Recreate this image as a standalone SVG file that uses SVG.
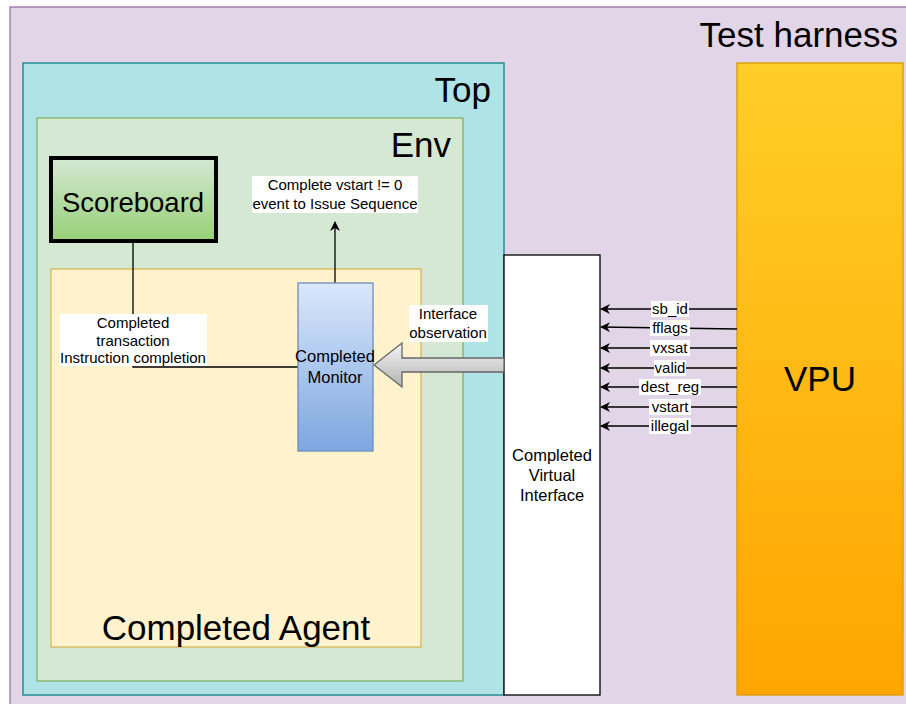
<svg xmlns="http://www.w3.org/2000/svg" width="906" height="704" viewBox="0 0 906 704">
<defs>
<linearGradient id="gSb" x1="0" y1="0" x2="0" y2="1"><stop offset="0" stop-color="#d5e8d4"/><stop offset="1" stop-color="#97d077"/></linearGradient>
<linearGradient id="gMon" x1="0" y1="0" x2="0" y2="1"><stop offset="0" stop-color="#dae8fc"/><stop offset="1" stop-color="#7ea6e0"/></linearGradient>
<linearGradient id="gVpu" x1="0" y1="0" x2="0" y2="1"><stop offset="0" stop-color="#ffcd28"/><stop offset="1" stop-color="#ffa500"/></linearGradient>
<linearGradient id="gArr" x1="0" y1="0" x2="0" y2="1"><stop offset="0" stop-color="#f5f5f5"/><stop offset="1" stop-color="#b3b3b3"/></linearGradient>
<marker id="ah" markerWidth="10" markerHeight="10" refX="9" refY="5" orient="auto" markerUnits="userSpaceOnUse"><path d="M0,0 L10,5 L0,10 L3,5 Z" fill="#000"/></marker>
</defs>
<style>
text{font-family:"Liberation Sans",Arial,sans-serif;fill:#000}
.big{font-size:35px}
.mid{font-size:16.5px;text-anchor:middle}
.sm{font-size:15px;text-anchor:middle}
.lbl{fill:#fff;stroke:none}
.wire{stroke:#000;stroke-width:1.3;fill:none}
</style>
<g id="test-harness">
<rect x="10" y="7" width="906" height="710" fill="#e1d5e7" stroke="#9673a6" stroke-width="1.3"/>
<text class="big" x="898" y="47" text-anchor="end">Test harness</text>
</g>
<g id="top">
<rect x="23" y="63" width="481" height="632" fill="#b0e3e6" stroke="#0e8088" stroke-width="1.3"/>
<text class="big" x="491" y="102" text-anchor="end">Top</text>
</g>
<g id="env">
<rect x="37" y="118" width="426" height="563" fill="#d5e8d4" stroke="#82b366" stroke-width="1.3"/>
<text class="big" x="451" y="157" text-anchor="end">Env</text>
</g>
<g id="scoreboard">
<rect x="51" y="158" width="165" height="83" fill="url(#gSb)" stroke="#000" stroke-width="4"/>
<text x="133" y="212" font-size="27.5" text-anchor="middle">Scoreboard</text>
</g>
<g id="agent">
<rect x="51" y="269" width="370" height="378" fill="#fff2cc" stroke="#d6b656" stroke-width="1.3"/>
<text class="big" x="236" y="640" text-anchor="middle">Completed Agent</text>
</g>
<g id="vpu">
<rect x="737" y="63" width="166" height="632" fill="url(#gVpu)" stroke="#d79b00" stroke-width="1.3"/>
<text class="big" x="820" y="391" text-anchor="middle">VPU</text>
</g>
<g id="virtual-interface">
<rect x="504" y="255" width="96" height="440" fill="#fff" stroke="#000" stroke-width="1.3"/>
<text class="mid" x="552" y="461">Completed</text>
<text class="mid" x="552" y="481">Virtual</text>
<text class="mid" x="552" y="501">Interface</text>
</g>
<g id="connectors">
<path class="wire" d="M133,241 V367 H298"/>
<path class="wire" d="M335,283 V222" marker-end="url(#ah)"/>
<path d="M504,358 H402 V343 L374,365 L402,387 V372 H504 Z" fill="url(#gArr)" stroke="#666" stroke-width="1.3"/>
<path class="wire" d="M737,309 H601" marker-end="url(#ah)"/>
<path class="wire" d="M737,329 L601,327" marker-end="url(#ah)"/>
<path class="wire" d="M737,348 H601" marker-end="url(#ah)"/>
<path class="wire" d="M737,368 H601" marker-end="url(#ah)"/>
<path class="wire" d="M737,387 H601" marker-end="url(#ah)"/>
<path class="wire" d="M737,407 H601" marker-end="url(#ah)"/>
<path class="wire" d="M737,426 H601" marker-end="url(#ah)"/>
</g>
<g id="monitor">
<rect x="298" y="283" width="75" height="168" fill="url(#gMon)" stroke="#6c8ebf" stroke-width="1.3"/>
<text class="mid" x="335" y="362">Completed</text>
<text class="mid" x="335" y="383">Monitor</text>
</g>
<g id="labels">
<rect class="lbl" x="252" y="176" width="166" height="37"/>
<text class="sm" x="335" y="190">Complete vstart != 0</text>
<text class="sm" x="335" y="209">event to Issue Sequence</text>
<rect class="lbl" x="60" y="314" width="147" height="52"/>
<text class="sm" x="133" y="328">Completed</text>
<text class="sm" x="133" y="346">transaction</text>
<text class="sm" x="133" y="363">Instruction completion</text>
<rect class="lbl" x="409" y="305" width="79" height="37"/>
<text class="sm" x="448" y="319">Interface</text>
<text class="sm" x="448" y="338">observation</text>
<rect class="lbl" x="651" y="301" width="38" height="16"/>
<text class="sm" x="670" y="314">sb_id</text>
<rect class="lbl" x="650" y="320" width="40" height="16"/>
<text class="sm" x="670" y="333">fflags</text>
<rect class="lbl" x="650" y="340" width="40" height="16"/>
<text class="sm" x="670" y="353">vxsat</text>
<rect class="lbl" x="654" y="360" width="32" height="16"/>
<text class="sm" x="670" y="373">valid</text>
<rect class="lbl" x="639" y="379" width="62" height="16"/>
<text class="sm" x="670" y="392">dest_reg</text>
<rect class="lbl" x="649" y="399" width="42" height="16"/>
<text class="sm" x="670" y="412">vstart</text>
<rect class="lbl" x="649" y="418" width="42" height="16"/>
<text class="sm" x="670" y="431">illegal</text>
</g>
</svg>
